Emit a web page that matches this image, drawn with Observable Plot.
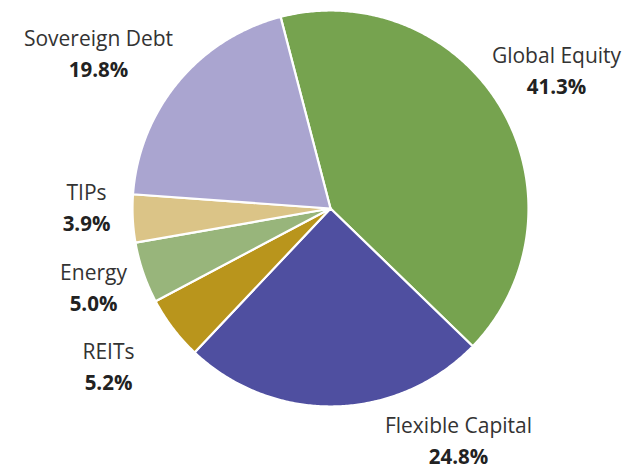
<!DOCTYPE html>
<html><head><meta charset="utf-8">
<script src="https://cdn.jsdelivr.net/npm/d3@7"></script>
<script src="https://cdn.jsdelivr.net/npm/@observablehq/plot@0.6"></script>
<style>body{margin:0;background:#fff}</style>
</head><body><div id="chart"></div>
<script>
// ---- data ----
const categories = ["Global Equity", "Flexible Capital", "REITs", "Energy", "TIPs", "Sovereign Debt"];
const shares = [41.3, 24.8, 5.2, 5.0, 3.9, 19.8];
const percentLabels = ["41.3%", "24.8%", "5.2%", "5.0%", "3.9%", "19.8%"];

// ---- styles / layout ----
const colors = ["#76a34f", "#4f4fa0", "#b9951c", "#98b57b", "#dbc487", "#aaa5d0"];
const R = 198;
const startDeg = -14.6;
const labelX = [226, 128, -222, -237, -244, -232];
const labelY = [152, -218, -144, -65, 15, 169];
const lineGap = 31;

const total = d3.sum(shares);
const pts = [];
let a = startDeg;
categories.forEach((name, i) => {
  const span = shares[i] / total * 360;
  const a0 = a, a1 = a + span;
  const n = Math.max(2, Math.ceil(span / 0.5));
  pts.push({name, x: 0, y: 0});
  for (let k = 0; k <= n; k++) {
    const t = (a0 + (a1 - a0) * k / n) * Math.PI / 180;
    pts.push({name, x: R * Math.sin(t), y: R * Math.cos(t)});
  }
  a = a1;
});

const labels = categories.map((name, i) => ({name, pct: percentLabels[i], x: labelX[i], y: labelY[i]}));

const chart = Plot.plot({
  width: 643,
  height: 470,
  margin: 0,
  style: {fontFamily: "'Open Sans', sans-serif", background: "#fff"},
  x: {domain: [-330, 313], axis: null},
  y: {domain: [-262, 208], axis: null},
  color: {domain: categories, range: colors},
  marks: [
    Plot.line(pts, {x: "x", y: "y", z: "name", fill: "name", stroke: "white", strokeWidth: 2.2, curve: "linear-closed"}),
    Plot.text(labels, {x: "x", y: "y", text: "name", fontSize: 21, fontWeight: 400, fill: "#333"}),
    Plot.text(labels, {x: "x", y: d => d.y - lineGap, text: "pct", fontSize: 20.5, fontWeight: "bold", fill: "#222"})
  ]
});
document.getElementById("chart").appendChild(chart);
</script>
</body></html>
